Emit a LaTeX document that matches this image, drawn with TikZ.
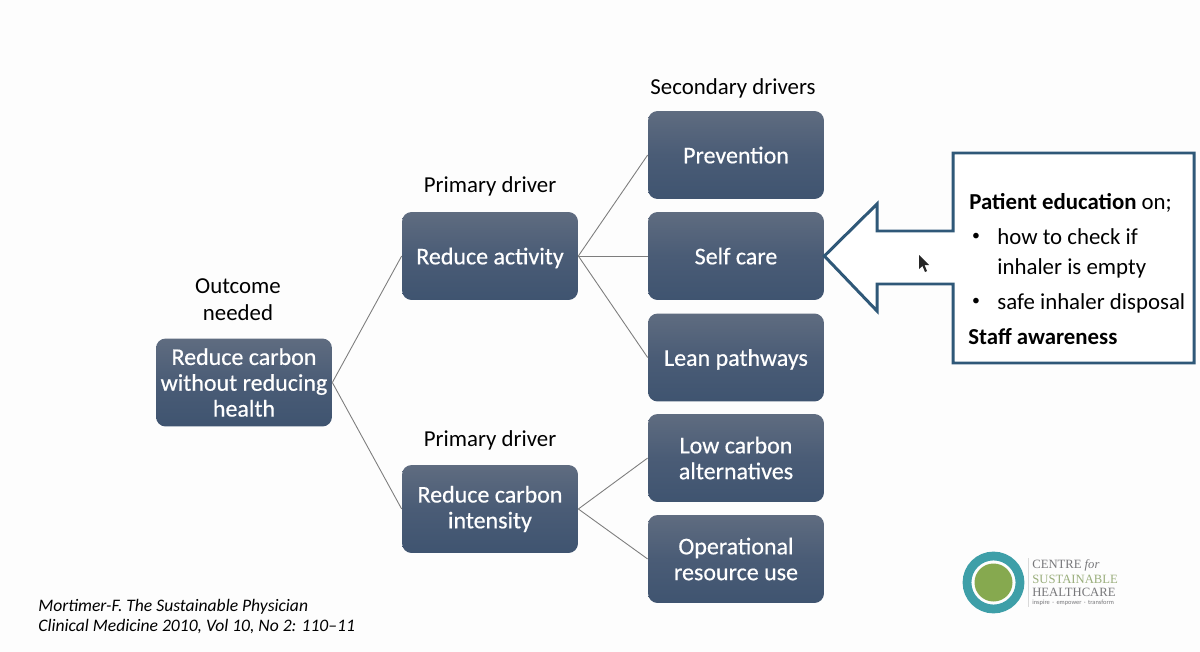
\documentclass[tikz,border=0pt]{standalone}
\usepackage{fontspec}
\setmainfont{Carlito}
\newfontfamily\boxfont[FakeBold=0.45]{Carlito}
\newfontfamily\logofont{Liberation Serif}
\newcommand{\nodepth}[1]{\raisebox{0pt}[\height][0pt]{#1}}
\definecolor{pagebg}{HTML}{FDFDFD}
\definecolor{boxtop}{HTML}{5F6C80}
\definecolor{boxmid}{HTML}{4A5C76}
\definecolor{boxbot}{HTML}{3F5470}
\definecolor{calloutline}{HTML}{2F5878}
\definecolor{linegrey}{HTML}{7D7D7D}
\definecolor{logoteal}{HTML}{3E9FA8}
\definecolor{logogreen}{HTML}{86A94F}
\definecolor{logogrey}{HTML}{77777A}
\definecolor{logoolive}{HTML}{9AAE7C}
\tikzset{
  x=0.02cm,y=-0.02cm,
  drvbox/.style={rounded corners=5.5pt,top color=boxtop,bottom color=boxbot,middle color=boxmid,draw=none,
    minimum width=3.52cm,minimum height=1.76cm,inner sep=0pt,text=white,align=center,
    font=\boxfont\fontsize{13.65}{14.7}\selectfont},
  heading/.style={text=black,align=center,inner sep=0pt,font=\fontsize{13}{15.2}\selectfont},
  link/.style={draw=linegrey,line width=0.5pt},
  note/.style={anchor=west,inner sep=0pt,text=black,font=\fontsize{13}{15}\selectfont},
  bullet/.style={anchor=center,inner sep=0pt,text=black,font=\fontsize{9}{11}\selectfont},
  cite/.style={anchor=west,inner sep=0pt,text=black,font=\fontsize{10}{12}\itshape\selectfont},
  logotext/.style={anchor=west,inner sep=0pt,font=\logofont\fontsize{7.2}{8}\selectfont}
}
\begin{document}
\begin{tikzpicture}
\path[fill=pagebg] (0,0) rectangle (1200,652);
\useasboundingbox (0,0) rectangle (1200,652);
% boxes
\node[drvbox] (out) at (244,382.5) {Reduce carbon\\without reducing\\health};
\node[drvbox] (act) at (490,256) {\nodepth{Reduce activity}};
\node[drvbox] (int) at (490,509) {Reduce carbon\\intensity};
\node[drvbox] (pre) at (736,155) {\nodepth{Prevention}};
\node[drvbox] (self) at (736,256) {\nodepth{Self care}};
\node[drvbox] (lean) at (736,357.5) {\nodepth{Lean pathways}};
\node[drvbox] (low) at (736,458) {Low carbon\\alternatives};
\node[drvbox] (op) at (736,559) {Operational\\resource use};
% connectors
\draw[link] (out.east) -- (act.west);
\draw[link] (out.east) -- (int.west);
\draw[link] (act.east) -- (pre.west);
\draw[link] (act.east) -- (self.west);
\draw[link] (act.east) -- (lean.west);
\draw[link] (int.east) -- (low.west);
\draw[link] (int.east) -- (op.west);
% headings
\node[heading] (h1) at (238,300) {Outcome\\needed};
\node[heading] (h2) at (490,186) {Primary driver};
\node[heading] (h3) at (490,440) {Primary driver};
\node[heading] (h4) at (733,88) {Secondary drivers};
% callout
\draw[draw=calloutline,line width=1.7pt,fill=white,miter limit=10]
  (self.east) -- (877,204) -- (877,231) -- (953,231) -- (953,153) -- (1194,153)
  -- (1194,363) -- (953,363) -- (953,284) -- (877,284) -- (877,311) -- cycle;
\node[note] (n1) at (969,203) {\textbf{Patient education} on;};
\node[bullet] (b1) at (976,237) {•};
\node[note] (n2) at (997,237) {how to check if};
\node[note] (n3) at (997,268) {inhaler is empty};
\node[bullet] (b2) at (976,302) {•};
\node[note] (n4) at (997,303) {safe inhaler disposal};
\node[note] (n5) at (968,337) {\textbf{Staff awareness}};
% cursor
\fill[black!85] (919,255) -- (919,269) -- (922.5,266) -- (925,272) -- (927,271) -- (924.5,265) -- (929,265) -- cycle;
% citation
\node[cite] (c1) at (38,607) {Mortimer-F. The Sustainable Physician};
\node[cite] (c2) at (38,627) {Clinical Medicine 2010, Vol 10, No 2: 110–11};
% logo
\draw[logoteal,line width=5pt] (993.5,582.5) circle (26.5);
\fill[logogreen] (993.5,582.5) circle (19);
\draw[black!15,line width=0.5pt] (1028,558) -- (1028,607);
\node[logotext,text=logogrey] (l1) at (1032,565) {CENTRE \textit{for}};
\node[logotext,text=logoolive] (l2) at (1032,579) {SUSTAINABLE};
\node[logotext,text=logogrey] (l3) at (1032,592.5) {HEALTHCARE};
\node[logotext,text=logogrey,font=\fontsize{3.65}{4}\selectfont] (l4) at (1032,603) {inspire \,·\, empower \,·\, transform};
\end{tikzpicture}
\end{document}
